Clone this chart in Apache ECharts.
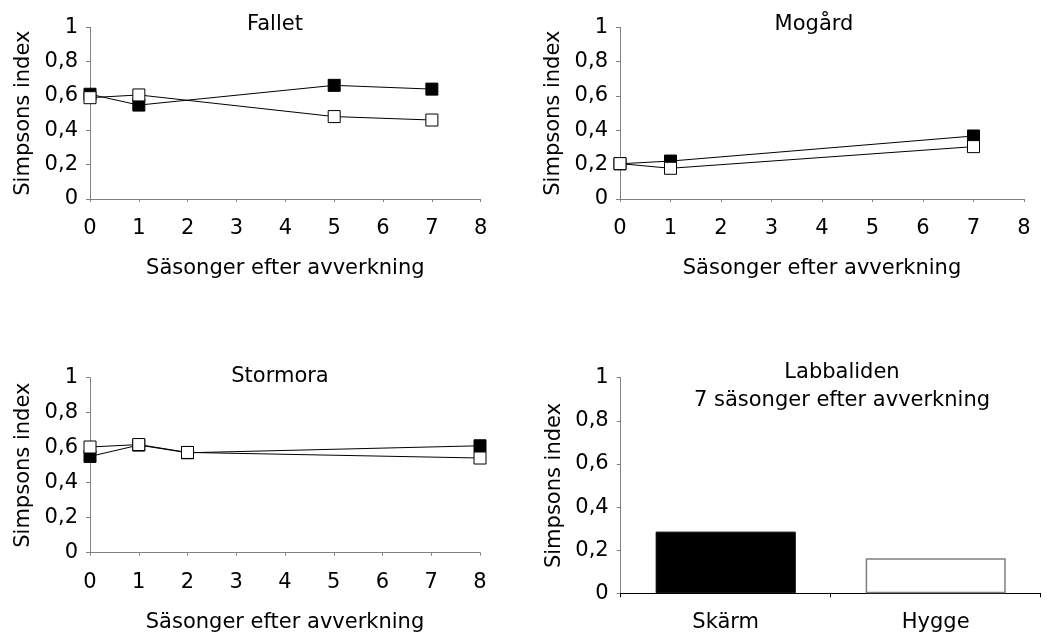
<!DOCTYPE html>
<html>
<head>
<meta charset="utf-8">
<script src="https://cdn.jsdelivr.net/npm/echarts@6/dist/echarts.min.js"></script>
<style>
html,body{margin:0;padding:0;background:#fff;}
#c{width:1047px;height:634px;}
</style>
</head>
<body>
<div id="c"></div>
<script>
// ---- data ----
const fallet_x = [0, 1, 5, 7];
const fallet_skarm = [0.61, 0.547, 0.662, 0.64];
const fallet_hygge = [0.59, 0.606, 0.48, 0.46];

const mogard_x = [0, 1, 7];
const mogard_skarm = [0.205, 0.221, 0.367];
const mogard_hygge = [0.206, 0.179, 0.305];

const stormora_x = [0, 1, 2, 8];
const stormora_skarm = [0.55, 0.615, 0.571, 0.611];
const stormora_hygge = [0.604, 0.618, 0.573, 0.541];

const bar_categories = ['Skärm', 'Hygge'];
const bar_values = [0.286, 0.162];

const panel_titles = ['Fallet', 'Mogård', 'Stormora', 'Labbaliden\n7 säsonger efter avverkning'];
const xName = 'Säsonger efter avverkning';
const yName = 'Simpsons index';

// ---- chart ----
const FONT = 'DejaVu Sans';
const pairs = (xs, ys) => xs.map((x, i) => [x, ys[i]]);
const yFmt = v => String(v).replace('.', ',');

const grids = [
  {left: 90, top: 27.3, width: 390.7, height: 171.7},
  {left: 620, top: 27.3, width: 404, height: 171.7},
  {left: 90, top: 377.7, width: 390, height: 175},
  {left: 620.7, top: 377.7, width: 420, height: 215.6}
];

function yAxis(i) {
  return {
    gridIndex: i, type: 'value', min: 0, max: 1, interval: 0.2,
    name: yName, nameLocation: 'middle', nameGap: 56,
    nameTextStyle: {fontSize: 21, color: '#000', fontFamily: FONT},
    axisLine: {show: true, lineStyle: {color: '#808080', width: 1}},
    axisTick: {show: true, length: 4, lineStyle: {color: '#808080'}},
    splitLine: {show: false},
    axisLabel: {formatter: yFmt, fontSize: 21, color: '#000', margin: 12, fontFamily: FONT}
  };
}
function xValAxis(i) {
  return {
    gridIndex: i, type: 'value', min: 0, max: 8, interval: 1,
    name: xName, nameLocation: 'middle', nameGap: 59,
    nameTextStyle: {fontSize: 21, color: '#000', fontFamily: FONT},
    axisLine: {show: true, lineStyle: {color: '#808080', width: 1}},
    axisTick: {show: true, length: 3, lineStyle: {color: '#808080'}},
    splitLine: {show: false},
    axisLabel: {fontSize: 21, color: '#000', margin: 19, fontFamily: FONT}
  };
}
function lineSeries(i, xs, ys, fill) {
  return {
    type: 'line', xAxisIndex: i, yAxisIndex: i,
    data: pairs(xs, ys),
    symbol: 'rect', symbolSize: 12,
    lineStyle: {color: '#000', width: 1},
    itemStyle: {color: fill, borderColor: '#000', borderWidth: 1},
    emphasis: {disabled: true},
    animation: false
  };
}

const titlePos = [
  {x: 275, top: 10},
  {x: 814, top: 10},
  {x: 280, top: 362},
  {x: 842, top: 358}
];

const option = {
  animation: false,
  textStyle: {fontFamily: FONT},
  title: panel_titles.map((t, i) => ({
    text: t, left: titlePos[i].x, top: titlePos[i].top, textAlign: 'center', padding: 0,
    textStyle: {fontSize: 21, fontWeight: 'normal', color: '#000', fontFamily: FONT, lineHeight: 28.5}
  })),
  grid: grids,
  xAxis: [
    xValAxis(0), xValAxis(1), xValAxis(2),
    {
      gridIndex: 3, type: 'category', data: bar_categories,
      axisLine: {show: true, lineStyle: {color: '#000', width: 1}},
      axisTick: {show: true, length: 4, lineStyle: {color: '#000'}},
      axisLabel: {fontSize: 21, color: '#000', margin: 19, fontFamily: FONT}
    }
  ],
  yAxis: [yAxis(0), yAxis(1), yAxis(2), yAxis(3)],
  series: [
    lineSeries(0, fallet_x, fallet_skarm, '#000'),
    lineSeries(0, fallet_x, fallet_hygge, '#fff'),
    lineSeries(1, mogard_x, mogard_skarm, '#000'),
    lineSeries(1, mogard_x, mogard_hygge, '#fff'),
    lineSeries(2, stormora_x, stormora_skarm, '#000'),
    lineSeries(2, stormora_x, stormora_hygge, '#fff'),
    {
      type: 'bar', xAxisIndex: 3, yAxisIndex: 3,
      barCategoryGap: '33.3%',
      data: bar_values.map((v, i) => ({
        value: v,
        itemStyle: i === 0 ? {color: '#000', borderColor: '#000', borderWidth: 1}
                           : {color: '#fff', borderColor: '#808080', borderWidth: 1.5}
      })),
      emphasis: {disabled: true}
    }
  ]
};
const chart = echarts.init(document.getElementById('c'));
chart.setOption(option);
</script>
</body>
</html>
